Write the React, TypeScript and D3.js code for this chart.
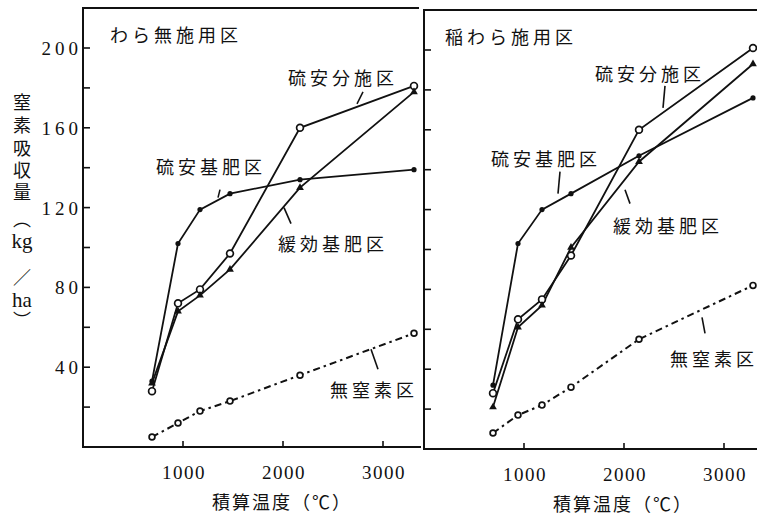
import React from "react";
import * as d3 from "d3";

// accumulated temperature (°C) at each sampling
const tempsLeft = [690, 950, 1170, 1470, 2170, 3310];
const tempsRight = [690, 940, 1180, 1470, 2150, 3290];

// N uptake (kg/ha) - straw not applied
const basalLeft = [33, 102, 119, 127, 134, 139];
const splitLeft = [28, 72, 79, 97, 160, 181];
const slowLeft = [32, 68, 76, 89, 130, 178];
const noNLeft = [5, 12, 18, 23, 36, 57];

// N uptake (kg/ha) - rice straw applied
const basalRight = [32, 103, 120, 128, 147, 176];
const splitRight = [28, 65, 75, 97, 160, 201];
const slowRight = [21, 61, 72, 101, 144, 193];
const noNRight = [8, 17, 22, 31, 55, 82];

const xTicks = [1000, 2000, 3000];
const yTicks = [20, 40, 60, 80, 100, 120, 140, 160, 180, 200];
const yLabels = [40, 80, 120, 160, 200];

const yTitle = ["窒", "素", "吸", "収", "量", "︵", "kg", "／", "ha", "︶"];
const yTitleBase = [109, 132, 155, 177, 199, 226, 248, 284, 307, 327];

const JP = "'Noto Sans CJK JP', sans-serif";
const SERIF = "'Liberation Serif', 'DejaVu Serif', serif";

type Label = { text: string; x: number; y: number; anchor?: string; lead?: [number, number, number, number] };

const labelsLeft: Label[] = [
  { text: "硫安分施区", x: 2600, y: 184.5, lead: [2800, 178, 2740, 172] },
  { text: "硫安基肥区", x: 1280, y: 140, lead: [1370, 129, 1350, 125] },
  { text: "緩効基肥区", x: 2500, y: 101.5, lead: [2010, 120, 2080, 112] },
  { text: "無窒素区", x: 2910, y: 28, lead: [2880, 49, 2950, 39] },
];

const labelsRight: Label[] = [
  { text: "硫安分施区", x: 2260, y: 187.5, lead: [2410, 182, 2390, 171] },
  { text: "硫安基肥区", x: 1220, y: 145, lead: [1360, 139, 1340, 128] },
  { text: "緩効基肥区", x: 2440, y: 111.5, lead: [2010, 130, 2060, 123] },
  { text: "無窒素区", x: 2460, y: 44.5, anchor: "start", lead: [2780, 66, 2810, 58] },
];

type Series = { values: number[]; marker: string; dashed?: boolean };

function Marker({ kind, x, y }: { kind: string; x: number; y: number }) {
  if (kind === "dot") return <circle cx={x} cy={y} r={2.6} fill="#111" />;
  if (kind === "tri") {
    const p = d3.symbol(d3.symbolTriangle, 26)() || "";
    return <path d={p} transform={`translate(${x},${y})`} fill="#111" />;
  }
  const r = kind === "circle" ? 3.4 : 2.9;
  return <circle cx={x} cy={y} r={r} fill="#fff" stroke="#111" strokeWidth={1.7} />;
}

function Panel(props: {
  x0: number; x1: number; y0: number; yTop: number; frameTop: number; xMax: number;
  temps: number[]; series: Series[]; labels: Label[]; title: string; titleX: number; showY: boolean;
}) {
  const { x0, x1, y0, yTop, frameTop, xMax, temps, series, labels, title, titleX, showY } = props;
  const x = d3.scaleLinear().domain([0, xMax]).range([x0, x1]);
  const y = d3.scaleLinear().domain([0, 200]).range([y0, yTop]);
  const line = d3.line<number>().x((_, i) => x(temps[i])).y(d => y(d));
  const ink = "#111";

  return (
    <g>
      <path d={`M${x1},${frameTop}H${x0}V${y0}H${x1 + 2}`} fill="none" stroke={ink} strokeWidth={2} />
      {yTicks.map(t => (
        <line key={t} x1={x0} x2={x0 + 7} y1={y(t)} y2={y(t)} stroke={ink} strokeWidth={1.6} />
      ))}
      {xTicks.map(t => (
        <g key={t}>
          <line x1={x(t)} x2={x(t)} y1={y0} y2={y0 - 6} stroke={ink} strokeWidth={1.6} />
          <text x={x(t) + 1} y={y0 + 32} textAnchor="middle" fontFamily={SERIF} fontSize={19}
            letterSpacing={1.5} fill={ink}>{t}</text>
        </g>
      ))}
      {showY && yLabels.map(t => (
        <text key={t} x={x0 - 1} y={y(t) + 7} textAnchor="end" fontFamily={SERIF} fontSize={19}
          letterSpacing={4} fill={ink}>{t}</text>
      ))}
      <text x={x(1990)} y={y0 + 62} textAnchor="middle" fontFamily={JP} fontSize={18}
        letterSpacing={2} fill={ink}>積算温度（℃）</text>
      <text x={titleX} y={yTop - 6} fontFamily={JP} fontSize={18} letterSpacing={4} fill={ink}>{title}</text>

      {series.map((s, i) => (
        <path key={i} d={line(s.values) || ""} fill="none" stroke={ink} strokeWidth={s.dashed ? 2 : 1.8}
          strokeDasharray={s.dashed ? "7 4 2.5 4" : undefined} />
      ))}
      {series.map((s, i) => (
        <g key={i}>
          {s.values.map((v, j) => <Marker key={j} kind={s.marker} x={x(temps[j])} y={y(v)} />)}
        </g>
      ))}

      {labels.map((l, i) => (
        <g key={i}>
          <text x={x(l.x)} y={y(l.y) + 6} textAnchor={l.anchor || "middle"} fontFamily={JP} fontSize={18}
            letterSpacing={4} fill={ink}>{l.text}</text>
          {l.lead && (
            <line x1={x(l.lead[0])} y1={y(l.lead[1])} x2={x(l.lead[2])} y2={y(l.lead[3])}
              stroke={ink} strokeWidth={1.6} />
          )}
        </g>
      ))}
    </g>
  );
}

export default function App() {
  const left: Series[] = [
    { values: basalLeft, marker: "dot" },
    { values: splitLeft, marker: "circle" },
    { values: slowLeft, marker: "tri" },
    { values: noNLeft, marker: "small", dashed: true },
  ];
  const right: Series[] = [
    { values: basalRight, marker: "dot" },
    { values: splitRight, marker: "circle" },
    { values: slowRight, marker: "tri" },
    { values: noNRight, marker: "small", dashed: true },
  ];

  return (
    <svg width={757} height={515} style={{ position: "absolute", left: 0, top: 0, background: "#fff" }}>
      <rect width={757} height={515} fill="#fff" />
      <Panel x0={83} x1={419} y0={447} yTop={48} frameTop={8} xMax={3360} temps={tempsLeft}
        series={left} labels={labelsLeft} title="わら無施用区" titleX={110} showY />
      <Panel x0={424} x1={757} y0={449} yTop={50} frameTop={10} xMax={3330} temps={tempsRight}
        series={right} labels={labelsRight} title="稲わら施用区" titleX={445} showY={false} />
      {yTitle.map((c, i) => {
        const latin = /[a-z]/.test(c);
        return (
          <text key={i} x={22} y={yTitleBase[i]} textAnchor="middle"
            fontFamily={latin ? SERIF : JP} fontSize={latin ? 21 : 18} fill="#111">{c}</text>
        );
      })}
    </svg>
  );
}
